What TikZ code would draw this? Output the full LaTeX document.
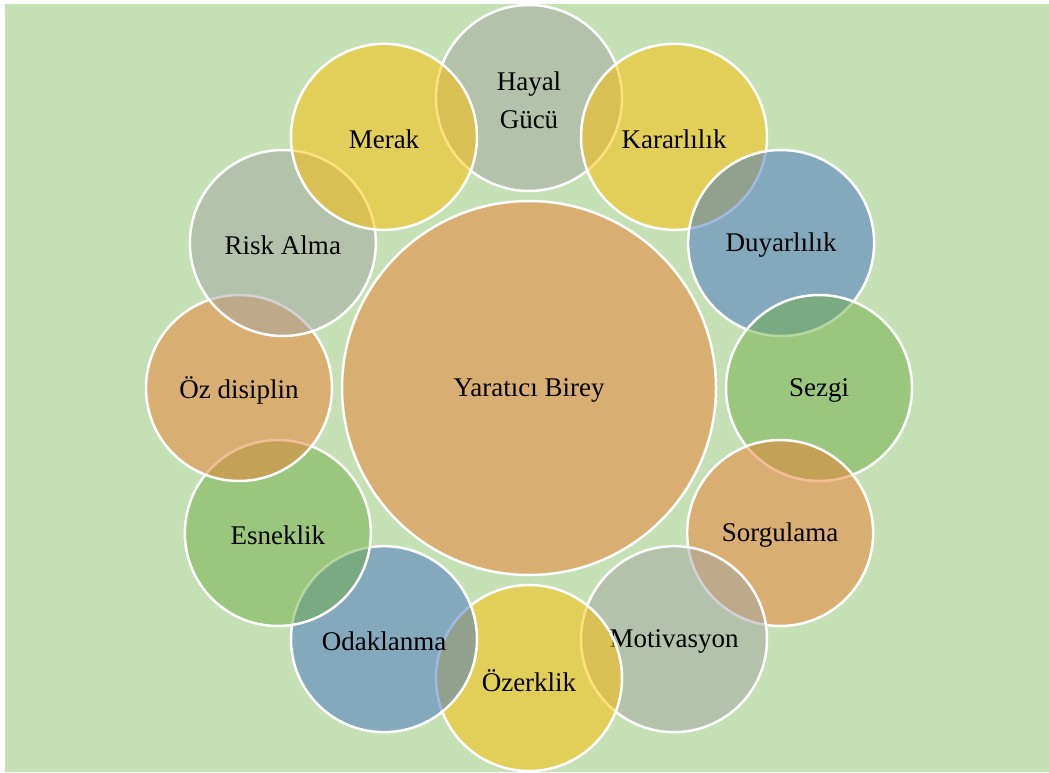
\documentclass[tikz,border=0pt]{standalone}
\usepackage{fontspec}
\setmainfont{Liberation Serif}
\definecolor{bg}{HTML}{C5E0B4}
\definecolor{cgray}{HTML}{A5A5A5}
\definecolor{cyellow}{HTML}{FFC000}
\definecolor{cblue}{HTML}{4472C4}
\definecolor{cgreen}{HTML}{70AD47}
\definecolor{corange}{HTML}{ED7D31}
\begin{document}
\begin{tikzpicture}[x=1pt,y=-1pt,
  bubble/.style={circle, draw=white, line width=2.5pt, fill opacity=0.5,
    minimum size=186pt, inner sep=0pt},
  caption/.style={align=center, text=black, inner sep=0pt,
    font=\fontsize{27}{38}\selectfont}]
\useasboundingbox (0,0) rectangle (1049,772);
% light green panel
\fill[bg] (5,4) rectangle (1049,772);
% central circle
\node[bubble, fill=corange, minimum size=374pt] (core) at (529,388) {};
\node[caption] (core-t) at ([yshift=-2.5pt]core.center) {Yaratıcı Birey};
% ring of twelve traits, clockwise from the top
\foreach \name/\txt/\col/\dx [count=\i from 0] in {
  hayal/{Hayal\\Gücü}/cgray/0,
  karar/Kararlılık/cyellow/0,
  duyar/Duyarlılık/cblue/1,
  sezgi/Sezgi/cgreen/0,
  sorgu/Sorgulama/corange/0,
  motiv/Motivasyon/cgray/0,
  ozerk/Özerklik/cyellow/0,
  odak/Odaklanma/cblue/0,
  esnek/Esneklik/cgreen/0,
  ozdis/Öz disiplin/corange/0,
  risk/Risk Alma/cgray/5,
  merak/Merak/cyellow/0}
{
  \pgfmathsetmacro{\ang}{90-30*\i}
  \node[bubble, fill=\col] (\name) at ({529+\dx+290*cos(\ang)},{388-290*sin(\ang)}) {};
  \node[caption] (\name-t) at ([yshift=-2.5pt]\name.center) {\txt};
}
\end{tikzpicture}
\end{document}
